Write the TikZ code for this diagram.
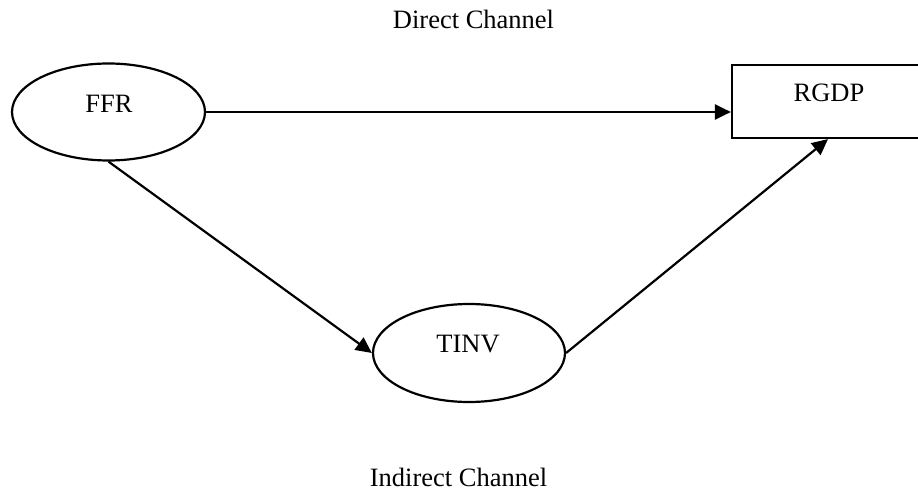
\documentclass[tikz,border=0pt]{standalone}
\usepackage{fontspec}
\setmainfont{Liberation Serif}
\usetikzlibrary{shapes.geometric,arrows.meta}
\begin{document}
\begin{tikzpicture}[x=1pt,y=-1pt,
  ell/.style={draw,line width=2.2pt,ellipse,inner sep=0pt},
  boxn/.style={draw,line width=2.2pt,rectangle,inner sep=0pt},
  lbl/.style={font=\fontsize{26.5}{30}\selectfont,inner sep=0pt},
  conn/.style={line width=2.2pt,-{Triangle[length=16pt,width=15pt]}}]
\useasboundingbox (0,0) rectangle (918,494);
\node[ell,minimum width=193pt,minimum height=97pt] (ffr) at (108.5,112) {};
\node[ell,minimum width=192pt,minimum height=98pt] (tinv) at (469,353) {};
\node[boxn,minimum width=192pt,minimum height=73pt] (rgdp) at (828,101.5) {};
\node[lbl] (tffr) at (109,104) {FFR};
\node[lbl] (ttinv) at (468,344) {TINV};
\node[lbl] (trgdp) at (829,93) {RGDP};
\node[lbl] (direct) at (473.5,19) {Direct Channel};
\node[lbl] (indirect) at (458.5,477) {Indirect Channel};
\draw[conn] (ffr.east) -- (ffr.east -| rgdp.west);
\draw[conn] (ffr.south) -- (tinv.west);
\draw[conn] (tinv.east) -- (rgdp.south);
\end{tikzpicture}
\end{document}
